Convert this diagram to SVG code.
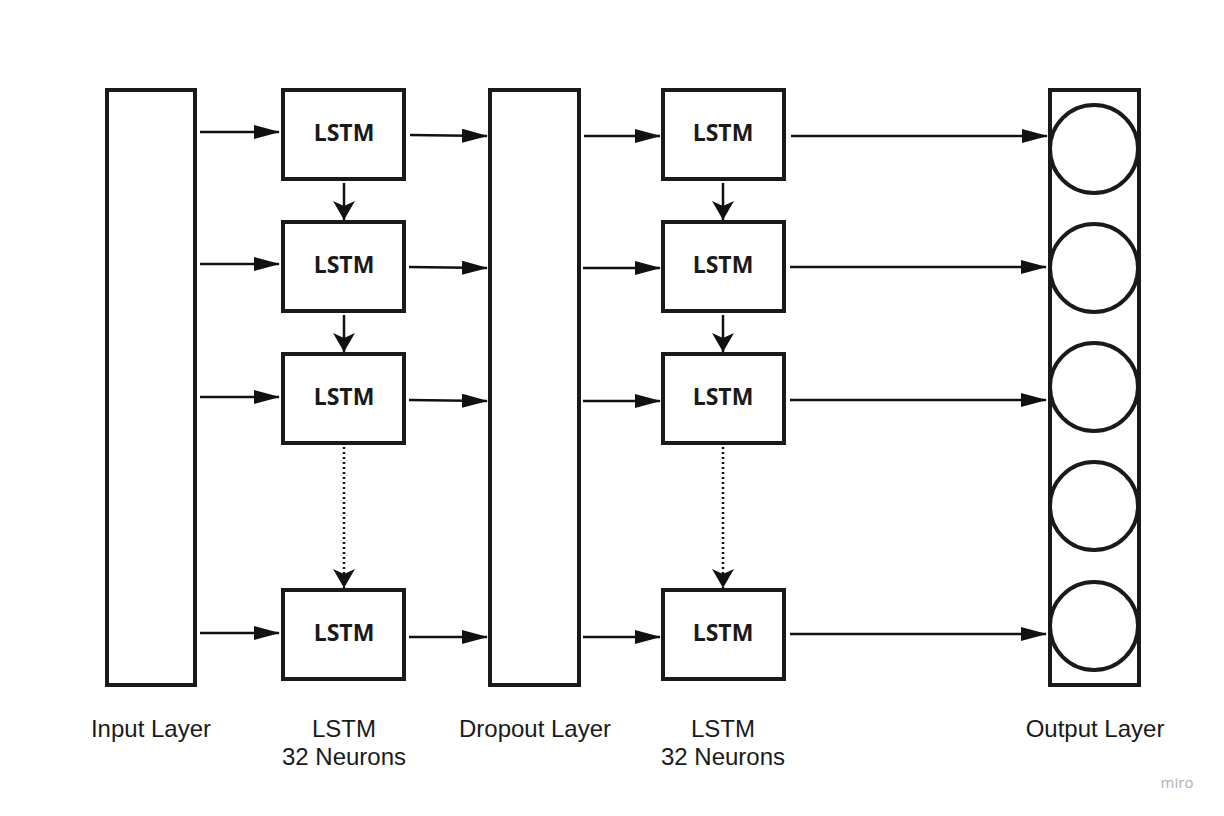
<svg xmlns="http://www.w3.org/2000/svg" width="1224" height="816" viewBox="0 0 1224 816">
<style>
.box{fill:#fff;stroke:#1a1a1a;stroke-width:4}
.circ{fill:#fff;stroke:#1a1a1a;stroke-width:4}
.lbl{font-family:"Open Sans","Noto Sans",sans-serif;font-weight:bold;font-size:23px;fill:#1a1a1a;text-anchor:middle}
.cap{font-family:"Liberation Sans",Arial,sans-serif;font-size:24px;fill:#1a1a1a;text-anchor:middle}
.c{stroke:#111;stroke-width:2.5;fill:none;marker-end:url(#ah)}
.v{stroke:#111;stroke-width:2.5;fill:none;marker-end:url(#av)}
.d{stroke:#111;stroke-width:2.5;fill:none;stroke-dasharray:2 3;marker-end:url(#av)}
</style>
<defs>
<marker id="ah" markerUnits="userSpaceOnUse" markerWidth="26" markerHeight="14" refX="25" refY="7" orient="auto">
<path d="M0,0 L26,7 L0,14 Z" fill="#111"/>
</marker>
<marker id="av" markerUnits="userSpaceOnUse" markerWidth="20" markerHeight="22" refX="19" refY="11" orient="auto">
<path d="M0,0 L19,11 L0,22 L5,11 Z" fill="#111"/>
</marker>
</defs>
<rect width="1224" height="816" fill="#fff"/>

<g id="input-layer"><rect class="box" x="107" y="90" width="88" height="595"/></g>
<g id="dropout-layer"><rect class="box" x="490" y="90" width="89" height="595"/></g>
<g id="output-layer">
<rect class="box" x="1050" y="90" width="89" height="595"/>
<circle class="circ" cx="1094" cy="149" r="44"/>
<circle class="circ" cx="1094" cy="268" r="44"/>
<circle class="circ" cx="1094" cy="387" r="44"/>
<circle class="circ" cx="1094" cy="506" r="44"/>
<circle class="circ" cx="1094" cy="626" r="44"/>
</g>

<g id="lstm1-1"><rect class="box" x="283" y="90" width="121" height="89"/><text class="lbl" x="344" y="141">LSTM</text></g>
<g id="lstm1-2"><rect class="box" x="283" y="222" width="121" height="89"/><text class="lbl" x="344" y="273">LSTM</text></g>
<g id="lstm1-3"><rect class="box" x="283" y="354" width="121" height="89"/><text class="lbl" x="344" y="405">LSTM</text></g>
<g id="lstm1-4"><rect class="box" x="283" y="590" width="121" height="89"/><text class="lbl" x="344" y="641">LSTM</text></g>

<g id="lstm2-1"><rect class="box" x="663" y="90" width="121" height="89"/><text class="lbl" x="723" y="141">LSTM</text></g>
<g id="lstm2-2"><rect class="box" x="663" y="222" width="121" height="89"/><text class="lbl" x="723" y="273">LSTM</text></g>
<g id="lstm2-3"><rect class="box" x="663" y="354" width="121" height="89"/><text class="lbl" x="723" y="405">LSTM</text></g>
<g id="lstm2-4"><rect class="box" x="663" y="590" width="121" height="89"/><text class="lbl" x="723" y="641">LSTM</text></g>

<g id="connectors">
<line class="c" x1="200" y1="132" x2="279" y2="132"/>
<line class="c" x1="200" y1="264" x2="279" y2="264"/>
<line class="c" x1="200" y1="397" x2="279" y2="397"/>
<line class="c" x1="200" y1="633" x2="279" y2="633"/>

<line class="c" x1="410" y1="135" x2="487" y2="136"/>
<line class="c" x1="409" y1="267" x2="487" y2="268"/>
<line class="c" x1="409" y1="400" x2="487" y2="401"/>
<line class="c" x1="409" y1="637" x2="487" y2="637"/>

<line class="c" x1="584" y1="136" x2="660" y2="136"/>
<line class="c" x1="583" y1="268" x2="660" y2="268"/>
<line class="c" x1="583" y1="401" x2="660" y2="401"/>
<line class="c" x1="583" y1="637" x2="660" y2="637"/>

<line class="c" x1="791" y1="136" x2="1047" y2="136"/>
<line class="c" x1="790" y1="267" x2="1046" y2="267"/>
<line class="c" x1="790" y1="400" x2="1046" y2="400"/>
<line class="c" x1="790" y1="634" x2="1046" y2="634"/>

<line class="v" x1="344" y1="183" x2="344" y2="220"/>
<line class="v" x1="344" y1="315" x2="344" y2="352"/>
<line class="d" x1="344" y1="447" x2="344" y2="588"/>
<line class="v" x1="723" y1="183" x2="723" y2="220"/>
<line class="v" x1="723" y1="315" x2="723" y2="352"/>
<line class="d" x1="723" y1="447" x2="723" y2="588"/>
</g>

<g id="labels">
<text class="cap" x="151" y="737">Input Layer</text>
<text class="cap" x="344" y="737">LSTM</text>
<text class="cap" x="344" y="765">32 Neurons</text>
<text class="cap" x="535" y="737">Dropout Layer</text>
<text class="cap" x="723" y="737">LSTM</text>
<text class="cap" x="723" y="765">32 Neurons</text>
<text class="cap" x="1095" y="737">Output Layer</text>
<text x="1177" y="788" font-family="'Open Sans',sans-serif" font-size="15" fill="#b0b0b0" text-anchor="middle">miro</text>
</g>
</svg>
